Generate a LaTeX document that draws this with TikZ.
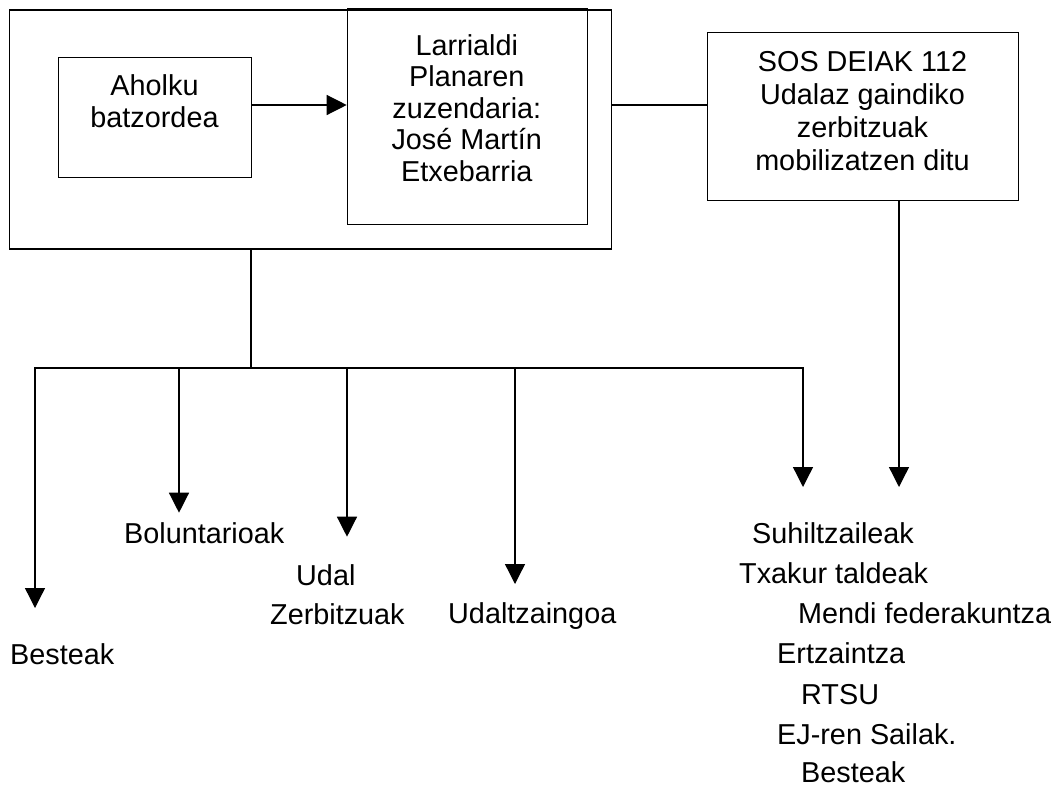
\documentclass[tikz,border=0pt]{standalone}
\usepackage{fontspec}
\setmainfont{Liberation Sans}
\usetikzlibrary{arrows.meta}
\begin{document}
\begin{tikzpicture}[x=1pt,y=-1pt,
  box/.style={draw, line width=1.3pt, inner sep=0pt, anchor=north west},
  lbl/.style={inner sep=0pt, anchor=base west, font=\fontsize{28.8}{32}\selectfont},
  boxtext/.style={inner sep=0pt, anchor=north, align=center},
  conn/.style={line width=1.3pt},
  arr/.style={conn, -{Triangle[length=20pt,width=20pt]}}]
\useasboundingbox (0,0) rectangle (1060,788);

% boxes
\node[box, minimum width=602pt, minimum height=239pt] (outer) at (9,9.3) {};
\node[box, minimum width=240.3pt, minimum height=216.3pt] (larr) at (346.7,7.7) {};
\node[box, minimum width=193pt, minimum height=120pt] (ahol) at (58,56.7) {};
\node[box, minimum width=311pt, minimum height=168pt] (sos) at (707,32) {};

% box texts
\node[boxtext, font=\fontsize{28.8}{31.5}\selectfont] (larrtext) at (466.8,34.4)
  {Larrialdi\\Planaren\\zuzendaria:\\José Martín\\Etxebarria};
\node[boxtext, font=\fontsize{28.8}{32}\selectfont] (aholtext) at (154.5,74.4)
  {Aholku\\batzordea};
\node[boxtext, font=\fontsize{28.8}{33}\selectfont] (sostext) at (862.5,51)
  {SOS DEIAK 112\\Udalaz gaindiko\\zerbitzuak\\mobilizatzen ditu};

% lower labels
\node[lbl] (besteakL) at (10,664) {Besteak};
\node[lbl] (bolun) at (124,543) {Boluntarioak};
\node[lbl] (udal) at (296,585) {Udal};
\node[lbl] (zerb) at (270,624) {Zerbitzuak};
\node[lbl] (udaltz) at (448,623) {Udaltzaingoa};
\node[lbl] (suhil) at (752,543) {Suhiltzaileak};
\node[lbl] (txakur) at (739,583) {Txakur taldeak};
\node[lbl] (mendi) at (798,623) {Mendi federakuntza};
\node[lbl] (ertz) at (777,663) {Ertzaintza};
\node[lbl] (rtsu) at (801,704) {RTSU};
\node[lbl] (ej) at (777,744) {EJ-ren Sailak.};
\node[lbl] (besteakR) at (801,782) {Besteak};

% coordinates
\coordinate (midline) at (0,105);
\coordinate (junction) at (251,368);
\coordinate (t1) at (35,608);
\coordinate (t2) at (179,512.7);
\coordinate (t3) at (347,536.7);
\coordinate (t4) at (515,584);
\coordinate (t5) at (803,487);
\coordinate (t6) at (899,487);

% connectors
\draw[arr] (ahol.east |- midline) -- (larr.west |- midline);
\draw[conn] (outer.east |- midline) -- (sos.west |- midline);
\draw[conn] (outer.south -| junction) -- (junction);
\draw[arr] (junction) -| (t1);
\draw[arr] (junction) -| (t2);
\draw[arr] (junction) -| (t3);
\draw[arr] (junction) -| (t4);
\draw[arr] (junction) -| (t5);
\draw[arr] (sos.south -| t6) -- (t6);
\end{tikzpicture}
\end{document}
